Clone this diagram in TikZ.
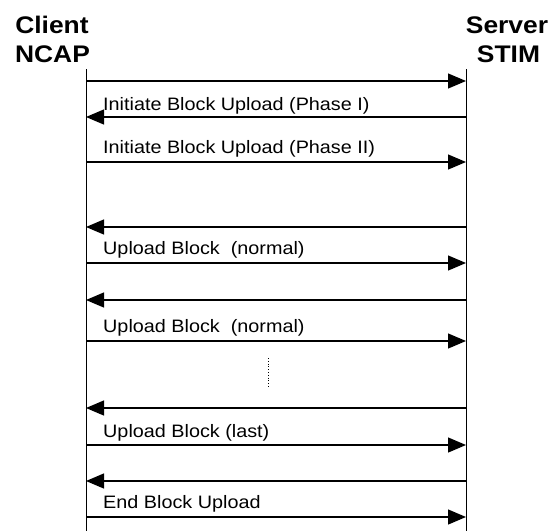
\documentclass[tikz,border=0pt]{standalone}
\usepackage{fontspec}
\setmainfont{Liberation Sans}
\usetikzlibrary{arrows.meta}
\tikzset{
  msg/.style={line width=1.2pt,-{Triangle[length=18pt,width=15pt]}},
  life/.style={line width=1pt},
  hdr/.style={anchor=base,inner sep=0pt,font=\fontsize{24}{28}\selectfont\bfseries},
  lbl/.style={anchor=base west,inner sep=0pt,font=\fontsize{18}{20}\selectfont}
}
\newcommand{\wide}[1]{\scalebox{1.1}[1]{#1}}
\begin{document}
\begin{tikzpicture}[x=1pt,y=-1pt]
\useasboundingbox (0,0) rectangle (559,531);
% headers
\node[hdr] (client) at (52,33) {\wide{Client}};
\node[hdr] (ncap) at (52.5,62) {\wide{NCAP}};
\node[hdr] (server) at (507,33) {\wide{Server}};
\node[hdr] (stim) at (508.5,62) {\wide{STIM}};
% lifelines
\coordinate (ltop) at (86,69);
\coordinate (lbot) at (86,531);
\coordinate (rtop) at (466,69);
\coordinate (rbot) at (466,531);
\draw[life] (ltop) -- (lbot);
\draw[life] (rtop) -- (rbot);
% message endpoints
\foreach \i/\y in {1/81,2/117,3/162,4/227,5/263,6/300,7/341,8/408,9/445,10/481,11/517}{
  \coordinate (c\i) at (86,\y);
  \coordinate (s\i) at (466,\y);
}
\draw[msg] (c1) -- (s1);
\draw[msg] (s2) -- (c2);
\draw[msg] (c3) -- (s3);
\draw[msg] (s4) -- (c4);
\draw[msg] (c5) -- (s5);
\draw[msg] (s6) -- (c6);
\draw[msg] (c7) -- (s7);
\draw[msg] (s8) -- (c8);
\draw[msg] (c9) -- (s9);
\draw[msg] (s10) -- (c10);
\draw[msg] (c11) -- (s11);
% labels
\node[lbl] (t1) at (103,110) {\wide{Initiate Block Upload (Phase I)}};
\node[lbl] (t2) at (103,153) {\wide{Initiate Block Upload (Phase II)}};
\node[lbl] (t3) at (103,254) {\wide{Upload Block\ \ (normal)}};
\node[lbl] (t4) at (103,332) {\wide{Upload Block\ \ (normal)}};
\node[lbl] (t5) at (103,437) {\wide{Upload Block (last)}};
\node[lbl] (t6) at (103,508) {\wide{End Block Upload}};
% continuation dots
\coordinate (d1) at (268,358);
\coordinate (d2) at (268,388);
\draw[line width=0.8pt,dotted] (d1) -- (d2);
\end{tikzpicture}
\end{document}
